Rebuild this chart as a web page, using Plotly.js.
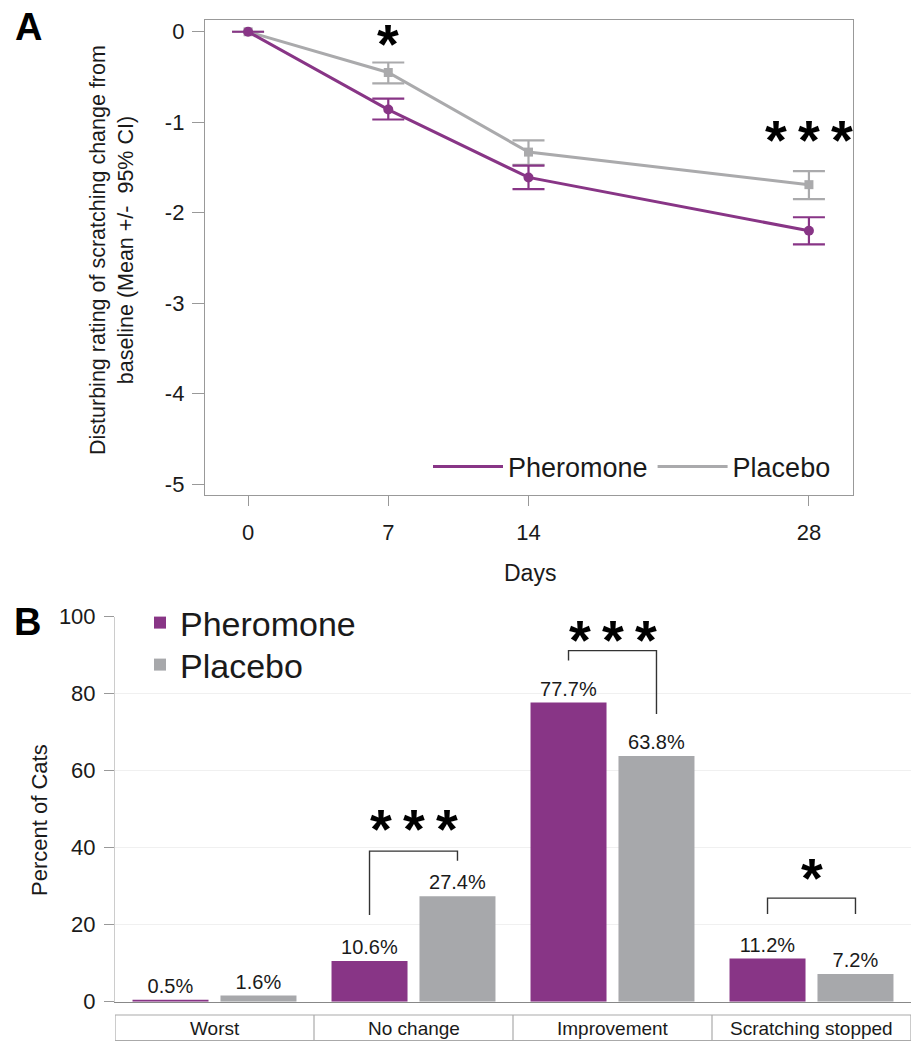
<!DOCTYPE html>
<html>
<head>
<meta charset="utf-8">
<script src="https://cdn.plot.ly/plotly-3.0.1.min.js"></script>
<style>html,body{margin:0;padding:0;background:#fff;}#chart{width:911px;height:1042px;}</style>
</head>
<body>
<div id="chart"></div>
<script>
// ---------- Panel A data ----------
const days = [0, 7, 14, 28];
const pherMean  = [0, -0.86, -1.61, -2.20];
const pherUpper = [0, -0.74, -1.48, -2.05];
const pherLower = [0, -0.97, -1.74, -2.35];
const placMean  = [0, -0.45, -1.33, -1.69];
const placUpper = [0, -0.34, -1.20, -1.54];
const placLower = [0, -0.57, -1.47, -1.85];
const yTicksA = [0, -1, -2, -3, -4, -5];
const sigA_days = [7, 28];
const sigA_y = [-0.06, -1.13];
const sigA_stars = [1, 3];

// ---------- Panel B data ----------
const categories = ['Worst', 'No change', 'Improvement', 'Scratching stopped'];
const pherPct = [0.5, 10.6, 77.7, 11.2];
const placPct = [1.6, 27.4, 63.8, 7.2];
const yTicksB = [0, 20, 40, 60, 80, 100];
const bracketCat = ['No change', 'Improvement', 'Scratching stopped'];
const bracketTop = [39.1, 91.2, 26.9];
const bracketLeftEnd = [22.5, 88.6, 22.8];
const bracketRightEnd = [36.6, 74.7, 22.8];
const bracketStarY = [46.5, 95.6, 33.8];
const bracketStars = [3, 3, 1];

// ---------- styling ----------
const W = 911, H = 1042;
const px = x => x / W;
const py = y => 1 - y / H;
const PURPLE = '#883586';
const GRAY_LINE = '#AAAAAC';
const GRAY_BAR = '#A7A8AB';
const FONT = 'Liberation Sans, Arial, sans-serif';
const TXT = '#1a1a1a';
const bargap = 0.116, bargroupgap = 0.136;
const barOffset = (1 - bargap) / 4;
const STAR_SIZE = 56, STAR_SHIFT = -6;
const starText = n => '<b>' + Array(n).fill('*').join('\u2009') + '</b>';

const diff = (a, b) => a.map((v, i) => v - b[i]);

const traces = [];
traces.push({x: days, y: placMean, mode: 'lines', name: 'Placebo', line: {color: GRAY_LINE, width: 3},
  xaxis: 'x', yaxis: 'y', legend: 'legend'});
traces.push({x: days, y: placMean, mode: 'markers', showlegend: false, xaxis: 'x', yaxis: 'y',
  marker: {symbol: 'square', size: 9, color: GRAY_LINE},
  error_y: {type: 'data', symmetric: false, array: diff(placUpper, placMean), arrayminus: diff(placMean, placLower),
    color: GRAY_LINE, thickness: 2.2, width: 16}});
traces.push({x: days, y: pherMean, mode: 'lines', name: 'Pheromone', line: {color: PURPLE, width: 3},
  xaxis: 'x', yaxis: 'y', legend: 'legend'});
traces.push({x: days, y: pherMean, mode: 'markers', showlegend: false, xaxis: 'x', yaxis: 'y',
  marker: {symbol: 'circle', size: 10, color: PURPLE},
  error_y: {type: 'data', symmetric: false, array: diff(pherUpper, pherMean), arrayminus: diff(pherMean, pherLower),
    color: PURPLE, thickness: 2.2, width: 16}});

traces.push({type: 'bar', x: categories, y: pherPct, name: 'Pheromone', xaxis: 'x2', yaxis: 'y2', legend: 'legend2',
  marker: {color: PURPLE}, text: pherPct.map(v => v + '%'), textposition: 'outside', cliponaxis: false,
  textfont: {family: FONT, size: 20, color: TXT}});
traces.push({type: 'bar', x: categories, y: placPct, name: 'Placebo', xaxis: 'x2', yaxis: 'y2', legend: 'legend3',
  marker: {color: GRAY_BAR}, text: placPct.map(v => v + '%'), textposition: 'outside', cliponaxis: false,
  textfont: {family: FONT, size: 20, color: TXT}});

const annotations = [];
const shapes = [];

annotations.push({text: '<b>A</b>', xref: 'paper', yref: 'paper', x: px(28), y: py(27), showarrow: false,
  font: {family: FONT, size: 38, color: '#000'}, xanchor: 'center', yanchor: 'middle'});
annotations.push({text: '<b>B</b>', xref: 'paper', yref: 'paper', x: px(27), y: py(622), showarrow: false,
  font: {family: FONT, size: 38, color: '#000'}, xanchor: 'center', yanchor: 'middle'});

annotations.push({text: 'Disturbing rating of scratching change from<br>baseline (Mean +/-  95% CI)', xref: 'paper', yref: 'paper',
  x: px(112), y: py(250), textangle: -90, showarrow: false, font: {family: FONT, size: 21.5, color: TXT},
  xanchor: 'center', yanchor: 'middle'});
annotations.push({text: 'Days', xref: 'paper', yref: 'paper', x: px(530), y: py(573), showarrow: false,
  font: {family: FONT, size: 23, color: TXT}, xanchor: 'center', yanchor: 'middle'});
annotations.push({text: 'Percent of Cats', xref: 'paper', yref: 'paper', x: px(39), y: py(820), textangle: -90, showarrow: false,
  font: {family: FONT, size: 22, color: TXT}, xanchor: 'center', yanchor: 'middle'});

sigA_days.forEach((d, i) => {
  annotations.push({text: starText(sigA_stars[i]), xref: 'x', yref: 'y', x: d, y: sigA_y[i], showarrow: false,
    font: {family: FONT, size: STAR_SIZE, color: '#000'}, xanchor: 'center', yanchor: 'middle', yshift: STAR_SHIFT});
});

bracketCat.forEach((c, i) => {
  const ci = categories.indexOf(c);
  const xl = ci - barOffset, xr = ci + barOffset;
  const path = `M ${xl},${bracketLeftEnd[i]} L ${xl},${bracketTop[i]} L ${xr},${bracketTop[i]} L ${xr},${bracketRightEnd[i]}`;
  shapes.push({type: 'path', xref: 'x2', yref: 'y2', path: path, line: {color: '#333', width: 1.4}});
  annotations.push({text: starText(bracketStars[i]), xref: 'x2', yref: 'y2', x: ci, y: bracketStarY[i], showarrow: false,
    font: {family: FONT, size: STAR_SIZE, color: '#000'}, xanchor: 'center', yanchor: 'middle', yshift: STAR_SHIFT});
});

shapes.push({type: 'rect', xref: 'x2', yref: 'paper', x0: -0.5, x1: categories.length - 0.5, y0: py(1040.5), y1: py(1015),
  line: {color: '#aaa', width: 1.2}});
for (let k = 0; k < categories.length - 1; k++) {
  shapes.push({type: 'line', xref: 'x2', yref: 'paper', x0: k + 0.5, x1: k + 0.5, y0: py(1040.5), y1: py(1015),
    line: {color: '#aaa', width: 1.2}});
}
categories.forEach((c, i) => {
  annotations.push({text: c, xref: 'x2', yref: 'paper', x: i, y: py(1028), showarrow: false,
    font: {family: FONT, size: 19, color: TXT}, xanchor: 'center', yanchor: 'middle'});
});

const legendB = (yc) => ({orientation: 'v', x: px(140), xanchor: 'left', y: py(yc), yanchor: 'middle',
  font: {family: FONT, size: 34, color: TXT}, bgcolor: 'rgba(0,0,0,0)', itemclick: false});

const layout = {
  width: W, height: H,
  margin: {l: 0, r: 0, t: 0, b: 0},
  paper_bgcolor: '#fff', plot_bgcolor: '#fff',
  font: {family: FONT, color: TXT},
  showlegend: true,
  barmode: 'group', bargap: bargap, bargroupgap: bargroupgap,
  xaxis: {domain: [px(205), px(853)], range: [-2.15, 30.2], tickvals: days, ticktext: days.map(String),
    showline: true, mirror: true, linecolor: '#999', linewidth: 1.2, ticks: 'outside', ticklen: 10, tickcolor: '#999',
    showgrid: false, zeroline: false, tickfont: {family: FONT, size: 22, color: TXT}, ticklabelstandoff: 7, fixedrange: true},
  yaxis: {domain: [py(495), py(20)], range: [-5.12, 0.13], tickvals: yTicksA, ticktext: yTicksA.map(String),
    showline: true, mirror: true, linecolor: '#999', linewidth: 1.2, ticks: 'outside', ticklen: 12, tickcolor: '#999',
    showgrid: false, zeroline: false, tickfont: {family: FONT, size: 22, color: TXT}, ticklabelstandoff: 3, fixedrange: true},
  xaxis2: {domain: [px(115), 1], range: [-0.5, 3.5], anchor: 'y2', type: 'category', showticklabels: false, ticks: '',
    showline: true, linecolor: '#888', linewidth: 1.2, showgrid: false, zeroline: false, fixedrange: true},
  yaxis2: {domain: [py(1001.7), py(616.7)], range: [0, 100], anchor: 'x2', tickvals: yTicksB, ticktext: yTicksB.map(String),
    showline: true, linecolor: '#ccc', linewidth: 1, ticks: 'outside', ticklen: 10, tickcolor: '#999',
    showgrid: true, gridcolor: '#f0f0f0', gridwidth: 1, zeroline: false,
    tickfont: {family: FONT, size: 22, color: TXT}, ticklabelstandoff: 4, fixedrange: true},
  legend: {orientation: 'h', x: px(836), xanchor: 'right', y: py(467), yanchor: 'middle', traceorder: 'reversed',
    font: {family: FONT, size: 27, color: TXT}, bgcolor: 'rgba(0,0,0,0)', itemwidth: 70, itemclick: false},
  legend2: legendB(623),
  legend3: legendB(665),
  annotations: annotations,
  shapes: shapes
};

Plotly.newPlot('chart', traces, layout, {displayModeBar: false, staticPlot: true});
</script>
</body>
</html>
